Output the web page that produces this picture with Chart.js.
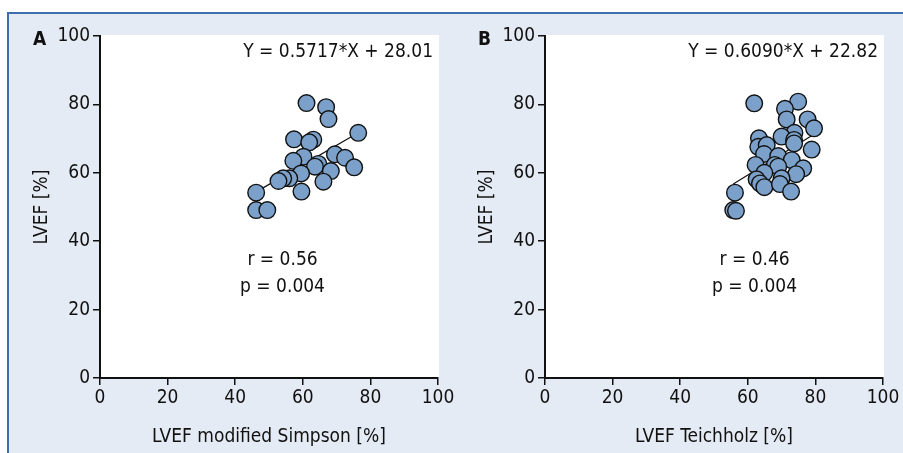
<!DOCTYPE html>
<html>
<head>
<meta charset="utf-8">
<script src="https://cdn.jsdelivr.net/npm/chart.js@4/dist/chart.umd.min.js"></script>
<style>
  html, body { margin: 0; padding: 0; background: #fff; }
  body { width: 903px; height: 453px; position: relative; overflow: hidden; }
  #frame {
    position: absolute; left: 7px; top: 12px; right: 0; bottom: 0;
    background: #e5ebf4;
    border-top: 2px solid #3d6fae;
    border-left: 2px solid #3d6fae;
  }
  canvas { position: absolute; top: 0; }
  #chartA { left: 0; }
  #chartB { left: 445px; }
</style>
</head>
<body>
<div id="frame"></div>
<canvas id="chartA" width="460" height="453"></canvas>
<canvas id="chartB" width="458" height="453"></canvas>
<script>
// panel A: LVEF modified Simpson vs LVEF
const simpsonX = [61.1, 66.9, 67.6, 76.4, 57.4, 63.1, 61.9, 69.5, 72.5, 60.2, 57.2, 64.6,
                  63.6, 75.2, 68.3, 59.5, 66.1, 56.0, 54.2, 52.8, 59.6, 46.2, 46.2, 49.5];
const simpsonY = [80.4, 79.2, 75.7, 71.7, 69.8, 69.7, 68.9, 65.4, 64.4, 64.7, 63.5, 62.6,
                  61.8, 61.6, 60.5, 59.8, 57.4, 58.4, 58.4, 57.6, 54.5, 54.2, 49.1, 49.1];
const fitA = { slope: 0.5717, intercept: 28.01, from: 46.2, to: 76.4 };

// panel B: LVEF Teichholz vs LVEF
const teichX = [61.9, 74.9, 71.0, 71.5, 77.7, 79.6, 73.8, 70.0, 63.3, 73.7, 73.7, 63.1,
                65.6, 78.9, 64.8, 69.0, 73.0, 68.0, 62.3, 69.0, 76.4, 64.9, 74.3, 70.0,
                62.6, 63.6, 64.9, 69.5, 72.8, 56.2, 55.7, 56.5];
const teichY = [80.3, 80.8, 78.7, 75.6, 75.6, 73.0, 71.7, 70.6, 70.1, 69.6, 68.6, 67.6,
                68.1, 66.8, 65.5, 64.9, 63.7, 62.3, 62.3, 61.8, 61.3, 60.0, 59.6, 58.4,
                58.1, 56.9, 55.8, 56.7, 54.5, 54.2, 49.1, 48.9];
const fitB = { slope: 0.6090, intercept: 22.82, from: 55.7, to: 79.6 };

const axisTicks = [0, 20, 40, 60, 80, 100];

const FONT = "'Liberation Sans Narrow', 'Arial Narrow', 'DejaVu Sans Condensed', sans-serif";
const pointFill = "#7ba0c9";

function toPoints(xs, ys) {
    return xs.map((x, i) => ({ x: x, y: ys[i] }));
}

// white plot area + panel letter + equation + r / p text
const panelText = {
    id: "panelText",
    beforeDraw(chart) {
        const a = chart.chartArea;
        const ctx = chart.ctx;
        ctx.save();
        ctx.fillStyle = "#fff";
        ctx.fillRect(a.left + 1, a.top - 1, a.right - a.left, a.bottom - a.top + 1);
        ctx.restore();
    },
    afterDraw(chart) {
        const o = chart.options.plugins.panelText;
        const ctx = chart.ctx;
        const a = chart.chartArea;
        const xs = chart.scales.x, ys = chart.scales.y;
        ctx.save();
        ctx.fillStyle = "#111";
        ctx.textBaseline = "middle";

        ctx.font = "bold 19px " + FONT;
        ctx.textAlign = "left";
        ctx.fillText(o.letter, o.letterX, 40);

        ctx.font = "19px " + FONT;
        ctx.textAlign = "right";
        ctx.fillText(o.equation, a.right - 5, 52);

        ctx.textAlign = "center";
        ctx.fillText(o.r, xs.getPixelForValue(o.textX), ys.getPixelForValue(34.5));
        ctx.fillText(o.p, xs.getPixelForValue(o.textX), ys.getPixelForValue(26.6));
        ctx.restore();
    }
};

function makeChart(id, xs, ys, fit, opts) {
    const ctx = document.getElementById(id).getContext("2d");
    return new Chart(ctx, {
        type: "scatter",
        data: {
            datasets: [{
                data: toPoints(xs, ys),
                backgroundColor: pointFill,
                borderColor: "#111",
                borderWidth: 1.4,
                pointRadius: 8.3,
                order: 1
            }, {
                type: "line",
                data: [
                    { x: fit.from, y: fit.slope * fit.from + fit.intercept },
                    { x: fit.to, y: fit.slope * fit.to + fit.intercept }
                ],
                borderColor: "#111",
                borderWidth: 1.2,
                pointRadius: 0,
                fill: false,
                order: 2
            }]
        },
        options: {
            responsive: false,
            animation: false,
            layout: { padding: { left: opts.padLeft, right: opts.padRight, top: 36, bottom: 0 } },
            plugins: {
                legend: { display: false },
                tooltip: { enabled: false },
                panelText: opts.text
            },
            scales: {
                x: {
                    type: "linear", min: 0, max: 100,
                    afterFit(s) { s.height = 75; },
                    afterBuildTicks(s) { s.ticks = axisTicks.map(v => ({ value: v })); },
                    grid: { drawOnChartArea: false, drawTicks: true, tickLength: 7, color: "#111", lineWidth: 1.5 },
                    border: { color: "#111", width: 2 },
                    ticks: { color: "#111", font: { family: FONT, size: 19 }, padding: 2, maxRotation: 0 },
                    title: { display: true, text: opts.xTitle, color: "#111",
                             font: { family: FONT, size: 19 }, padding: { top: 0, bottom: 5 } }
                },
                y: {
                    type: "linear", min: 0, max: 100,
                    afterFit(s) { s.width = opts.yWidth; },
                    afterBuildTicks(s) { s.ticks = axisTicks.map(v => ({ value: v })); },
                    grid: { drawOnChartArea: false, drawTicks: true, tickLength: 7, color: "#111", lineWidth: 1.5 },
                    border: { color: "#111", width: 2 },
                    ticks: { color: "#111", font: { family: FONT, size: 19 }, padding: 3 },
                    title: { display: true, text: "LVEF [%]", color: "#111",
                             font: { family: FONT, size: 19 }, padding: { top: opts.yTitlePad, bottom: 0 } }
                }
            }
        },
        plugins: [panelText]
    });
}

makeChart("chartA", simpsonX, simpsonY, fitA, {
    padLeft: 0, padRight: 22, yWidth: 100, yTitlePad: 31,
    xTitle: "LVEF modified Simpson [%]",
    text: { letter: "A", letterX: 33, equation: "Y = 0.5717*X + 28.01",
            r: "r = 0.56", p: "p = 0.004", textX: 54 }
});

makeChart("chartB", teichX, teichY, fitB, {
    padLeft: 0, padRight: 20, yWidth: 100, yTitlePad: 31,
    xTitle: "LVEF Teichholz [%]",
    text: { letter: "B", letterX: 33, equation: "Y = 0.6090*X + 22.82",
            r: "r = 0.46", p: "p = 0.004", textX: 62 }
});
</script>
</body>
</html>
